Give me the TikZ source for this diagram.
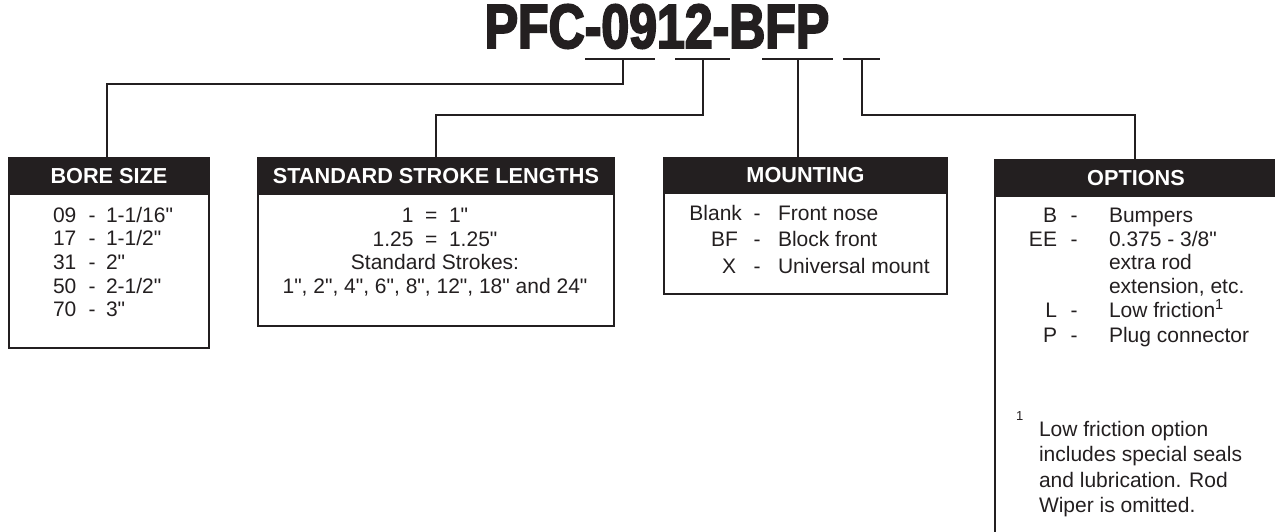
\documentclass[tikz,border=0pt]{standalone}
\usepackage{fontspec}
\setmainfont{Liberation Sans}[Ligatures=TeXOff]
\newfontfamily\titlefont[FakeStretch=0.80,FakeBold=3,Ligatures=TeXOff]{Liberation Sans Bold}
\definecolor{ink}{HTML}{231F20}
\begin{document}
\begin{tikzpicture}[x=1pt,y=-1pt,line width=2pt,draw=ink,
  hdr/.style={fill=ink,draw=ink,text=white,inner sep=0pt,anchor=north west,
    font=\fontsize{21.7}{21.7}\selectfont\bfseries},
  frame/.style={draw=ink,inner sep=0pt,anchor=north west},
  txt/.style={inner sep=0pt,text=ink,font=\fontsize{21}{21}\selectfont},
  lbl/.style={txt,anchor=base east},
  dsh/.style={txt,anchor=base},
  desc/.style={txt,anchor=base west},
  ctr/.style={txt,anchor=base}]
\useasboundingbox (0,0) rectangle (1275,531);

% title
\node[inner sep=0pt,anchor=base,text=ink] (title) at (657,48)
  {\titlefont\fontsize{62.5}{62.5}\selectfont PFC-0912-BFP};

% underline segments
\coordinate (s1a) at (585,59); \coordinate (s1b) at (655,59);
\coordinate (s2a) at (675,59); \coordinate (s2b) at (730,59);
\coordinate (s3a) at (762,59); \coordinate (s3b) at (833,59);
\coordinate (s4a) at (843,59); \coordinate (s4b) at (880,59);
\draw (s1a) -- (s1b);
\draw (s2a) -- (s2b);
\draw (s3a) -- (s3b);
\draw (s4a) -- (s4b);
\coordinate (u1) at (623,59);
\coordinate (u2) at (703,59);
\coordinate (u3) at (798,59);
\coordinate (u4) at (862,59);

% BORE SIZE box
\node[frame,minimum width=200pt,minimum height=190pt] (bore) at (8,157) {};
\node[hdr,minimum width=200pt,minimum height=36pt] (boreh) at (8,157) {BORE SIZE};
\node[desc] (bc1) at (52,222) {09};   \node[dsh] (bd1) at (92,222) {-};   \node[desc] (bv1) at (105,222) {1-1/16"};
\node[desc] (bc2) at (52,245.7) {17}; \node[dsh] (bd2) at (92,245.7) {-}; \node[desc] (bv2) at (105,245.7) {1-1/2"};
\node[desc] (bc3) at (52,269.4) {31}; \node[dsh] (bd3) at (92,269.4) {-}; \node[desc] (bv3) at (105,269.4) {2"};
\node[desc] (bc4) at (52,293.1) {50}; \node[dsh] (bd4) at (92,293.1) {-}; \node[desc] (bv4) at (105,293.1) {2-1/2"};
\node[desc] (bc5) at (52,316.8) {70}; \node[dsh] (bd5) at (92,316.8) {-}; \node[desc] (bv5) at (105,316.8) {3"};

% STANDARD STROKE LENGTHS box
\node[frame,minimum width=356pt,minimum height=168pt] (stroke) at (257,157) {};
\node[hdr,minimum width=356pt,minimum height=36pt] (strokeh) at (257,157) {STANDARD STROKE LENGTHS};
\node[ctr] (st1) at (435,222) {1\ \ =\ \ 1"};
\node[ctr] (st2) at (435,246) {1.25\ \ =\ \ 1.25"};
\node[ctr] (st3) at (435,269.5) {Standard Strokes:};
\node[ctr] (st4) at (435,293) {1", 2", 4", 6", 8", 12", 18" and 24"};

% MOUNTING box
\node[frame,minimum width=283pt,minimum height=136pt] (mount) at (663,157) {};
\node[hdr,minimum width=283pt,minimum height=35pt] (mounth) at (663,157) {MOUNTING};
\node[lbl] (m1l) at (743,220) {Blank};
\node[dsh] (m1d) at (757,220) {-};
\node[desc] (m1v) at (777,220) {Front nose};
\node[lbl] (m2l) at (739,246.5) {BF};
\node[dsh] (m2d) at (757,246.5) {-};
\node[desc] (m2v) at (777,246.5) {Block front};
\node[lbl] (m3l) at (737,273) {X};
\node[dsh] (m3d) at (757,273) {-};
\node[desc] (m3v) at (777,273) {Universal mount};

% OPTIONS box (open to the right and bottom)
\node[hdr,minimum width=290pt,minimum height=36pt] (opth) at (995,159) {\hspace*{-10pt}OPTIONS};
\coordinate (ol) at (995,540);
\draw (opth.north west) -- (ol);
\node[lbl] (o1l) at (1058,222) {B};
\node[dsh] (o1d) at (1074,222) {-};
\node[desc] (o1v) at (1108,222) {Bumpers};
\node[lbl] (o2l) at (1058,246) {EE};
\node[dsh] (o2d) at (1074,246) {-};
\node[desc] (o2v) at (1108,246) {0.375 - 3/8"};
\node[desc] (o2w) at (1108,269.5) {extra rod};
\node[desc] (o2x) at (1108,293) {extension, etc.};
\node[lbl] (o3l) at (1058,317) {L};
\node[dsh] (o3d) at (1074,317) {-};
\node[desc] (o3v) at (1108,317) {Low friction\textsuperscript{1}};
\node[lbl] (o4l) at (1058,342) {P};
\node[dsh] (o4d) at (1074,342) {-};
\node[desc] (o4v) at (1108,342) {Plug connector};
\node[txt,anchor=base west,font=\fontsize{13}{13}\selectfont] (fn) at (1015,420) {1};
\node[desc] (f1) at (1038,436) {Low friction option};
\node[desc] (f2) at (1038,461.5) {includes special seals};
\node[desc] (f3) at (1038,487) {and lubrication. Rod};
\node[desc] (f4) at (1038,512.5) {Wiper is omitted.};

% connectors
\draw (u1) -- ++(0,25) -| (boreh.north -| 107,0);
\draw (u2) -- ++(0,56) -| (strokeh.north);
\draw (u3) -- (u3 |- mounth.north);
\draw (u4) -- ++(0,56) -| (1135,159);
\end{tikzpicture}
\end{document}
